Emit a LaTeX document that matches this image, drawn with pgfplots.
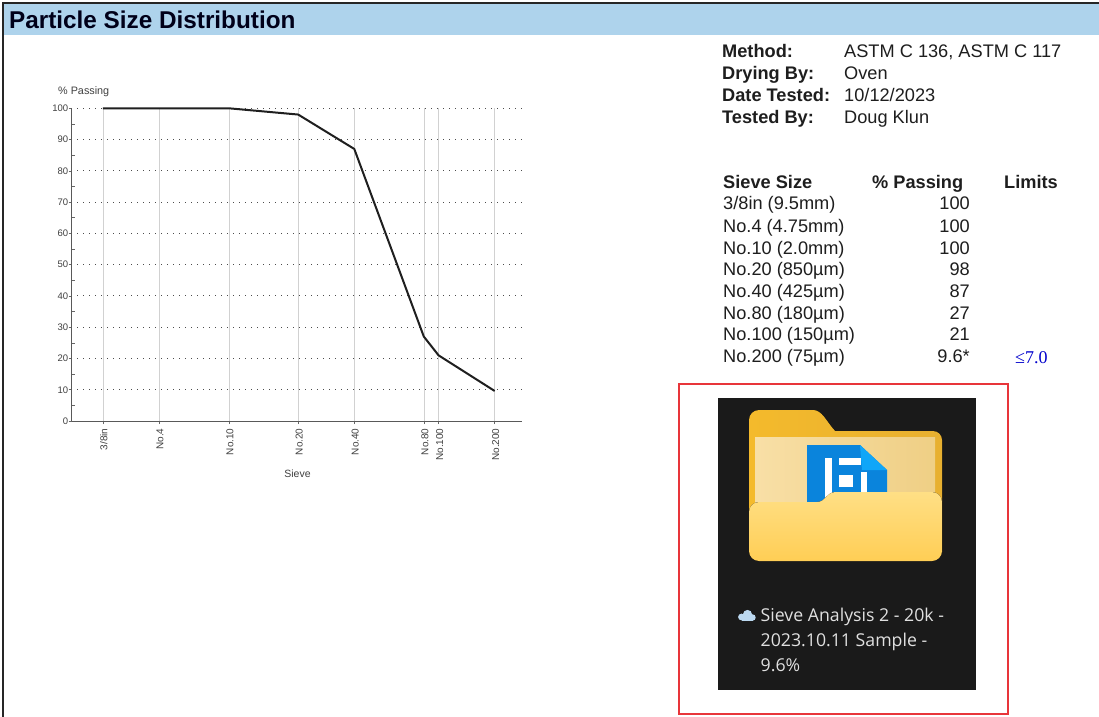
\documentclass[border=0pt]{standalone}
\usepackage{pgfplots}
\pgfplotsset{compat=1.18}
\usepackage{fontspec}
\setmainfont{Liberation Sans}
\newfontfamily\serifx{Liberation Serif}
\newfontfamily\uifont{Open Sans}
\usetikzlibrary{calc}
\definecolor{band}{HTML}{AED3EC}
\definecolor{txt}{HTML}{1E1E1E}
\definecolor{panel}{HTML}{1A1A1A}
\definecolor{fback}{HTML}{F4BA2C}
\definecolor{fbackb}{HTML}{E8B030}
\definecolor{papera}{HTML}{F8DFA6}
\definecolor{paperb}{HTML}{EFCF85}
\definecolor{fronta}{HTML}{FFDF85}
\definecolor{frontb}{HTML}{FFCE55}
\definecolor{docblue}{HTML}{0A84DC}
\definecolor{docfold}{HTML}{10A6F8}
\definecolor{redbox}{HTML}{E8353A}
\definecolor{cloud}{HTML}{BBD8F0}
\newcommand{\fs}[1]{\fontsize{#1bp}{#1bp}\selectfont}
\pgfplotstableread{
mm      pass
9.5     100
4.75    100
2.0     100
0.85    98
0.425   87
0.18    27
0.15    21
0.075   9.6
}\sieve
\begin{document}
\begin{tikzpicture}[x=1bp,y=-1bp]
\path[fill=white] (0,0) rectangle (1099,717);
\clip (0,0) rectangle (1099,717);
% page frame and header band
\fill[band] (4,4) rectangle (1099,35.5);
\draw[line width=1.5bp,black!85] (3,717) -- (3,3) -- (1099,3);
\node[anchor=base west,inner sep=0,font=\fs{24.3}\bfseries,text=black!90!blue] at (9,28.5) {Particle Size Distribution};
% chart
\begin{axis}[
  at={(71.7bp,-421bp)}, anchor=south west,
  scale only axis, width=450bp, height=312.7bp,
  xmode=log, x dir=reverse, log basis x=10,
  xmin=0.0537, xmax=13.96,
  ymin=0, ymax=100,
  axis lines=left, axis line style={-,color=black!65,line width=0.6bp},
  xtick={9.5,4.75,2.0,0.85,0.425,0.18,0.15,0.075},
  xticklabels={3/8in,No.4,No.10,No.20,No.40,No.80,No.100,No.200},
  minor xtick={},
  ytick={0,10,...,100},
  minor ytick={5,15,...,95},
  xmajorgrids, ymajorgrids,
  x grid style={color=black!18,line width=0.6bp},
  y grid style={color=black!70,line width=0.9bp,dash pattern=on 1bp off 5bp},
  tick style={color=black!60,line width=0.5bp},
  major tick length=3bp, minor tick length=3bp,
  tick align=outside,
  minor y tick style={xshift=3bp},
  log ticks with fixed point,
  xticklabel style={rotate=90,anchor=east,font=\fs{10},text=black!75,yshift=-1bp,xshift=-1bp},
  yticklabel style={font=\fs{9.5},text=black!75,xshift=3bp},
  /pgf/number format/assume math mode=true,
  clip=false,
]
\addplot[color=black!88,line width=2bp,line join=round] table[x=mm,y=pass] {\sieve};
\end{axis}
\node[anchor=base west,inner sep=0,font=\fs{10.8},text=black!75] at (58,94.5) {\% Passing};
\node[anchor=base,inner sep=0,font=\fs{10.5},text=black!75] at (297.5,477) {Sieve};
% method block
\foreach \yy/\a/\b in {57.5/Method:/{ASTM C 136, ASTM C 117},80/Drying By:/Oven,101.5/Date Tested:/10\slash12\slash2023,124/Tested By:/Doug Klun}{
  \node[anchor=base west,inner sep=0,font=\fs{18.2}\bfseries,text=txt] at (722,\yy) {\a};
  \node[anchor=base west,inner sep=0,font=\fs{18.2},text=txt] at (844,\yy) {\b};
}
% results table
\node[anchor=base west,inner sep=0,font=\fs{18.2}\bfseries,text=txt] at (723,188.5) {Sieve Size};
\node[anchor=base west,inner sep=0,font=\fs{18.2}\bfseries,text=txt] at (872,188.5) {\% Passing};
\node[anchor=base west,inner sep=0,font=\fs{18.2}\bfseries,text=txt] at (1004,188.5) {Limits};
\foreach \yy/\a/\b in {210/3\slash8in (9.5mm)/100,232/No.4 (4.75mm)/100,254/No.10 (2.0mm)/100,275.5/No.20 (850µm)/98,297/No.40 (425µm)/87,319/No.80 (180µm)/27,340.5/No.100 (150µm)/21,362.5/No.200 (75µm)/9.6*}{
  \node[anchor=base west,inner sep=0,font=\fs{18.2},text=txt] at (723,\yy) {\a};
  \node[anchor=base east,inner sep=0,font=\fs{18.2},text=txt] at (970,\yy) {\b};
}
\node[anchor=base west,inner sep=0,font=\fs{18}\serifx,text=blue!80!black] at (1015,363) {≤7.0};
% red box and screenshot panel
\draw[line width=2bp,color=redbox] (678.5,383.5) rectangle (1008,714);
\fill[panel] (718,398) rectangle (976,690);
% folder back
\fill[left color=fback,right color=fbackb] (749,420) arc[start angle=180,end angle=270,radius=10] -- (813,410)
  .. controls (822,410) and (826,421) .. (835,431) -- (933,431) arc[start angle=-90,end angle=0,radius=9] -- (942,552) -- (749,552) -- cycle;
% paper
\fill[left color=papera,right color=paperb] (755,437) rectangle (935,510);
% blue document
\fill[color=docblue] (807,445) -- (860,445) -- (887,470) -- (887,510) -- (807,510) -- cycle;
\fill[color=docfold] (860,445) -- (887,470) -- (862,470) -- cycle;
\fill[white] (825,458) rectangle (832,500);
\fill[white] (839,458) rectangle (861,465);
\fill[white] (839,475) rectangle (853,487);
\fill[white] (861,472) rectangle (867,492);
% folder front
\fill[top color=fronta,bottom color=frontb] (749,512) arc[start angle=180,end angle=270,radius=10] -- (817,502)
  .. controls (826,502) and (826,492) .. (836,492) -- (932,492) arc[start angle=-90,end angle=0,radius=10] -- (942,551) arc[start angle=0,end angle=90,radius=10] -- (759,561) arc[start angle=90,end angle=180,radius=10] -- cycle;
% cloud glyph
\fill[cloud] (741.5,617) circle[radius=3.4] (747.5,614.5) circle[radius=4.6] (752.5,617.5) circle[radius=3.2];
\fill[cloud] (741.5,616) rectangle (752.5,620.6);
% screenshot caption
\foreach \yy/\t in {621.5/{Sieve Analysis 2 - 20k -},646.5/{2023.10.11 Sample -},671.5/{9.6\%}}{
  \node[anchor=base west,inner sep=0,font=\fs{17.7}\uifont,text=white!88!black] at (760.5,\yy) {\t};
}
\end{tikzpicture}
\end{document}
